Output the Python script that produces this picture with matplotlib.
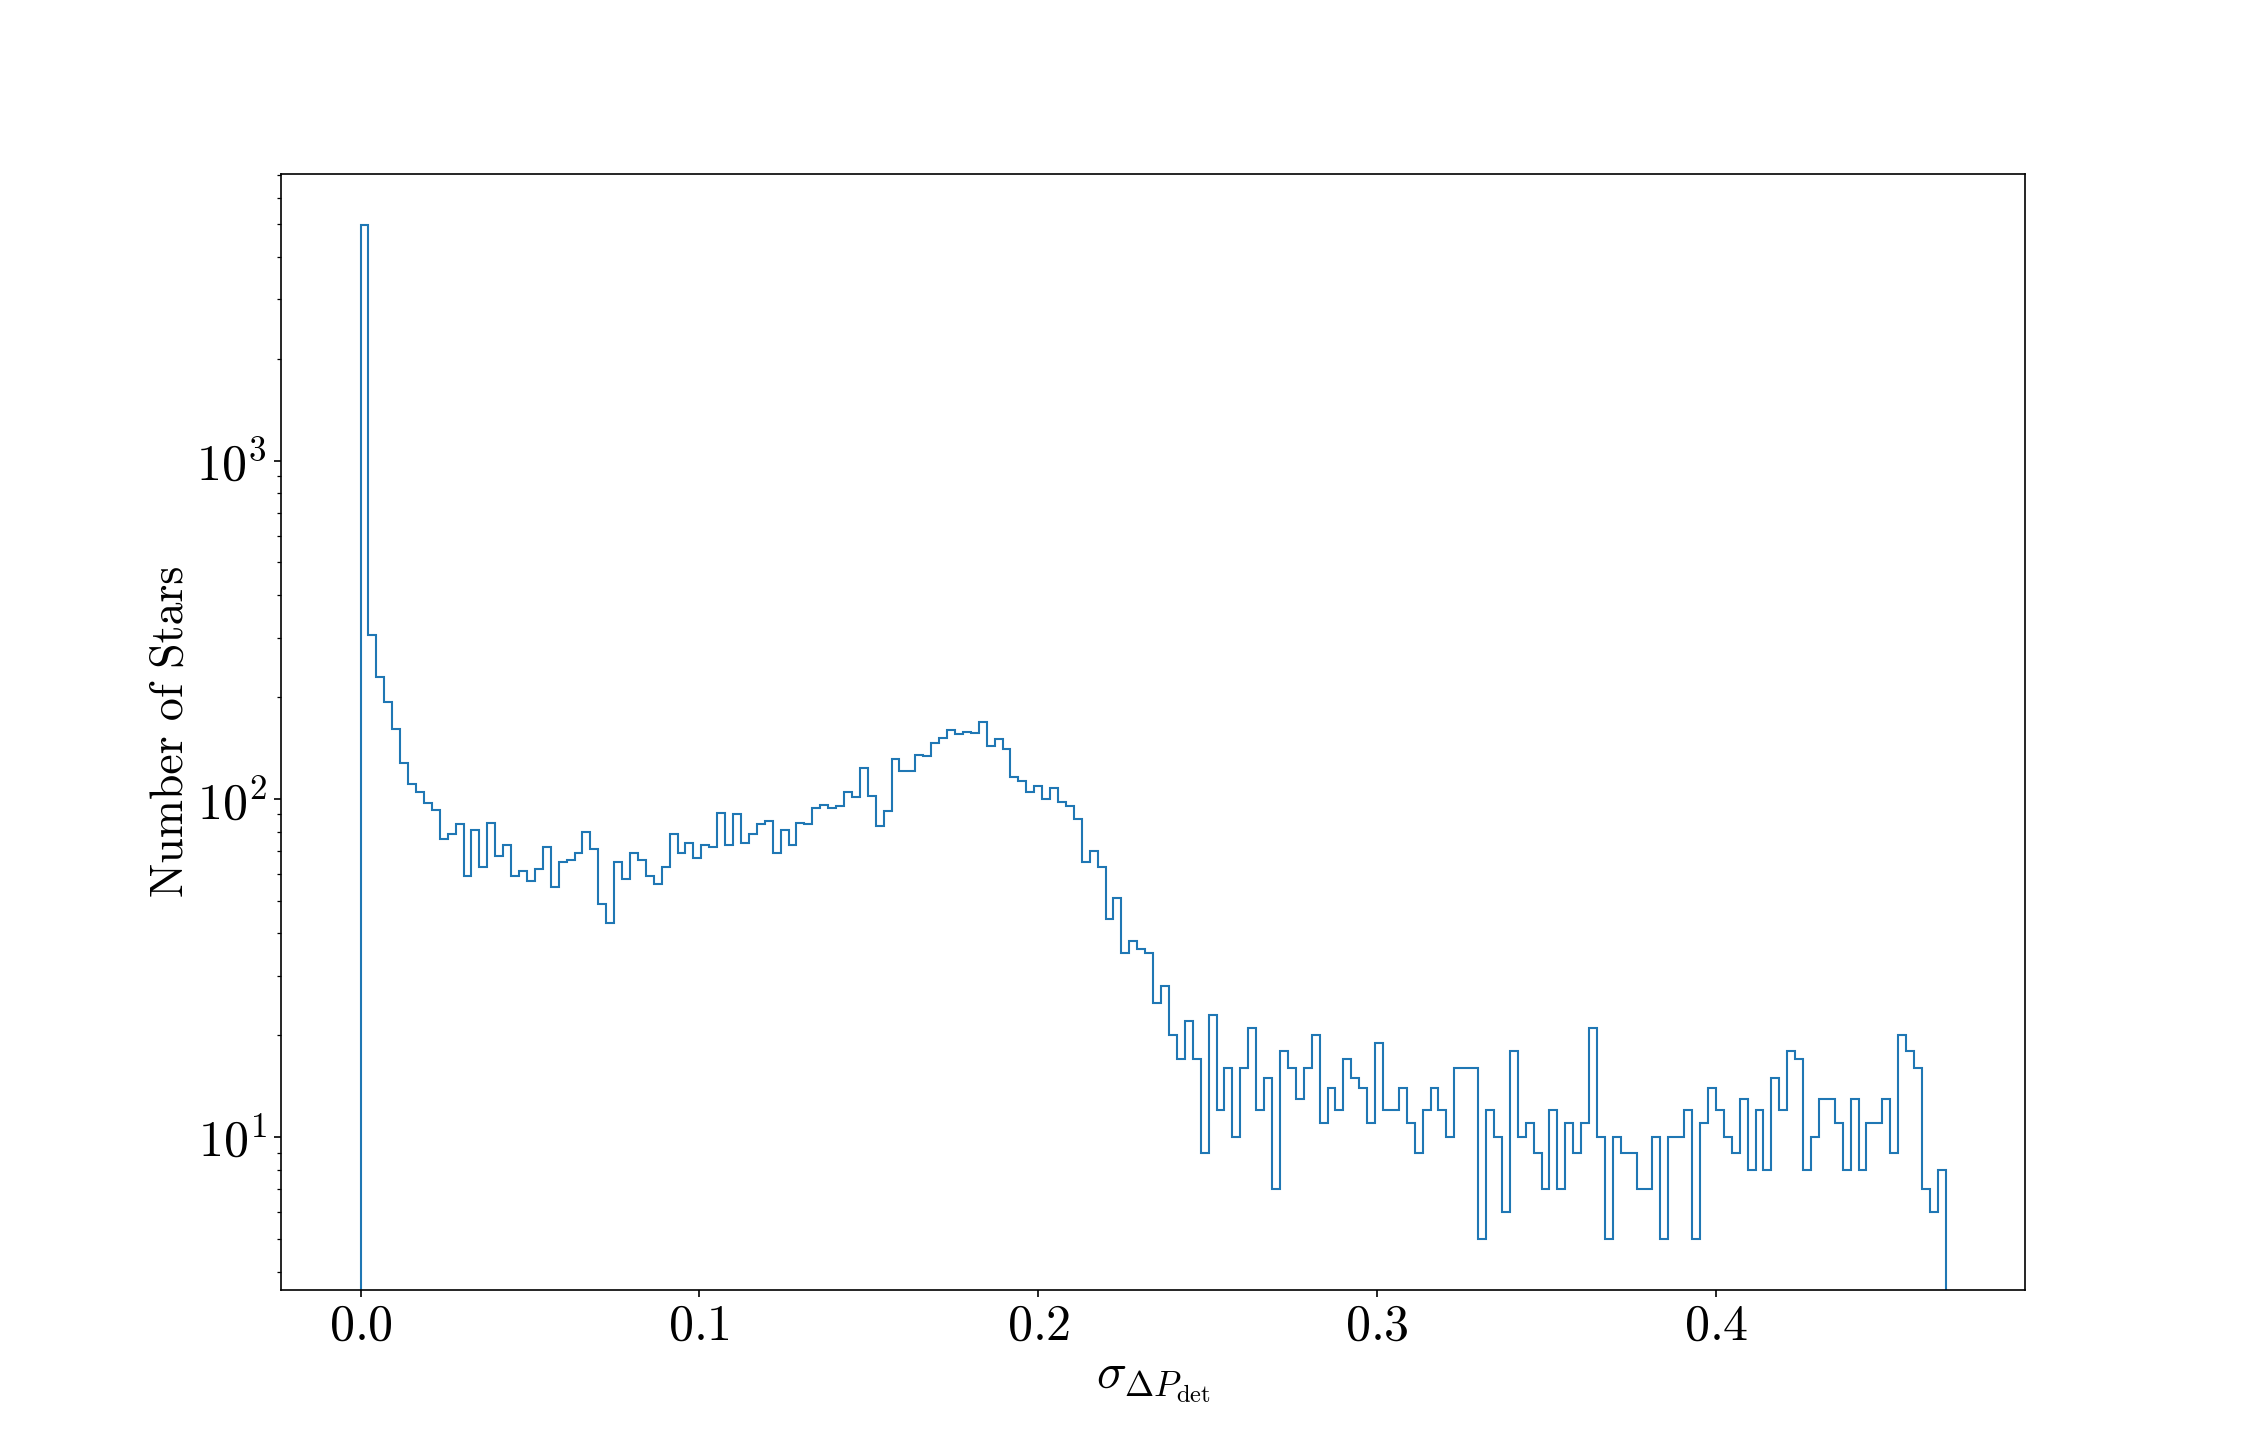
import matplotlib
matplotlib.use("Agg")
import matplotlib.pyplot as plt
import numpy as np

# histogram range and bin count
x_min, x_max = 0.0, 0.4678
n_bins = 200

# counts per bin
counts = [
    4990, 306, 230, 193, 161, 128, 111, 105, 97, 93,
    76, 79, 84, 59, 81, 63, 85, 68, 73, 59,
    61, 57, 62, 72, 55, 65, 66, 69, 80, 71,
    49, 43, 65, 58, 69, 66, 59, 56, 63, 79,
    69, 74, 67, 73, 72, 91, 73, 90, 74, 79,
    84, 86, 69, 81, 73, 85, 84, 94, 96, 94,
    95, 105, 101, 123, 102, 83, 92, 131, 121, 121,
    135, 134, 146, 151, 160, 156, 158, 157, 169, 143,
    150, 140, 116, 113, 105, 109, 100, 108, 98, 95,
    87, 65, 70, 63, 44, 51, 35, 38, 36, 35,
    25, 28, 20, 17, 22, 17, 9, 23, 12, 16,
    10, 16, 21, 12, 15, 7, 18, 16, 13, 16,
    20, 11, 14, 12, 17, 15, 14, 11, 19, 12,
    12, 14, 11, 9, 12, 14, 12, 10, 16, 16,
    16, 5, 12, 10, 6, 18, 10, 11, 9, 7,
    12, 7, 11, 9, 11, 21, 10, 5, 10, 9,
    9, 7, 7, 10, 5, 10, 10, 12, 5, 11,
    14, 12, 10, 9, 13, 8, 12, 8, 15, 12,
    18, 17, 8, 10, 13, 13, 11, 8, 13, 8,
    11, 11, 13, 9, 20, 18, 16, 7, 6, 8,
]

edges = np.linspace(x_min, x_max, n_bins + 1)
centers = 0.5 * (edges[:-1] + edges[1:])

plt.rcParams["font.family"] = "serif"
plt.rcParams["font.serif"] = ["cmr10"]
plt.rcParams["mathtext.fontset"] = "cm"
plt.rcParams["axes.formatter.use_mathtext"] = True
plt.rcParams["font.size"] = 24

fig = plt.figure(figsize=(15, 9.66), dpi=150)
plt.hist(centers, bins=edges, weights=counts, histtype="step", log=True)
plt.xlabel(r"$\sigma_{\Delta P_{\mathrm{det}}}$")
plt.ylabel("Number of Stars", fontsize=22, labelpad=2)
plt.savefig("out.png", dpi=150)
